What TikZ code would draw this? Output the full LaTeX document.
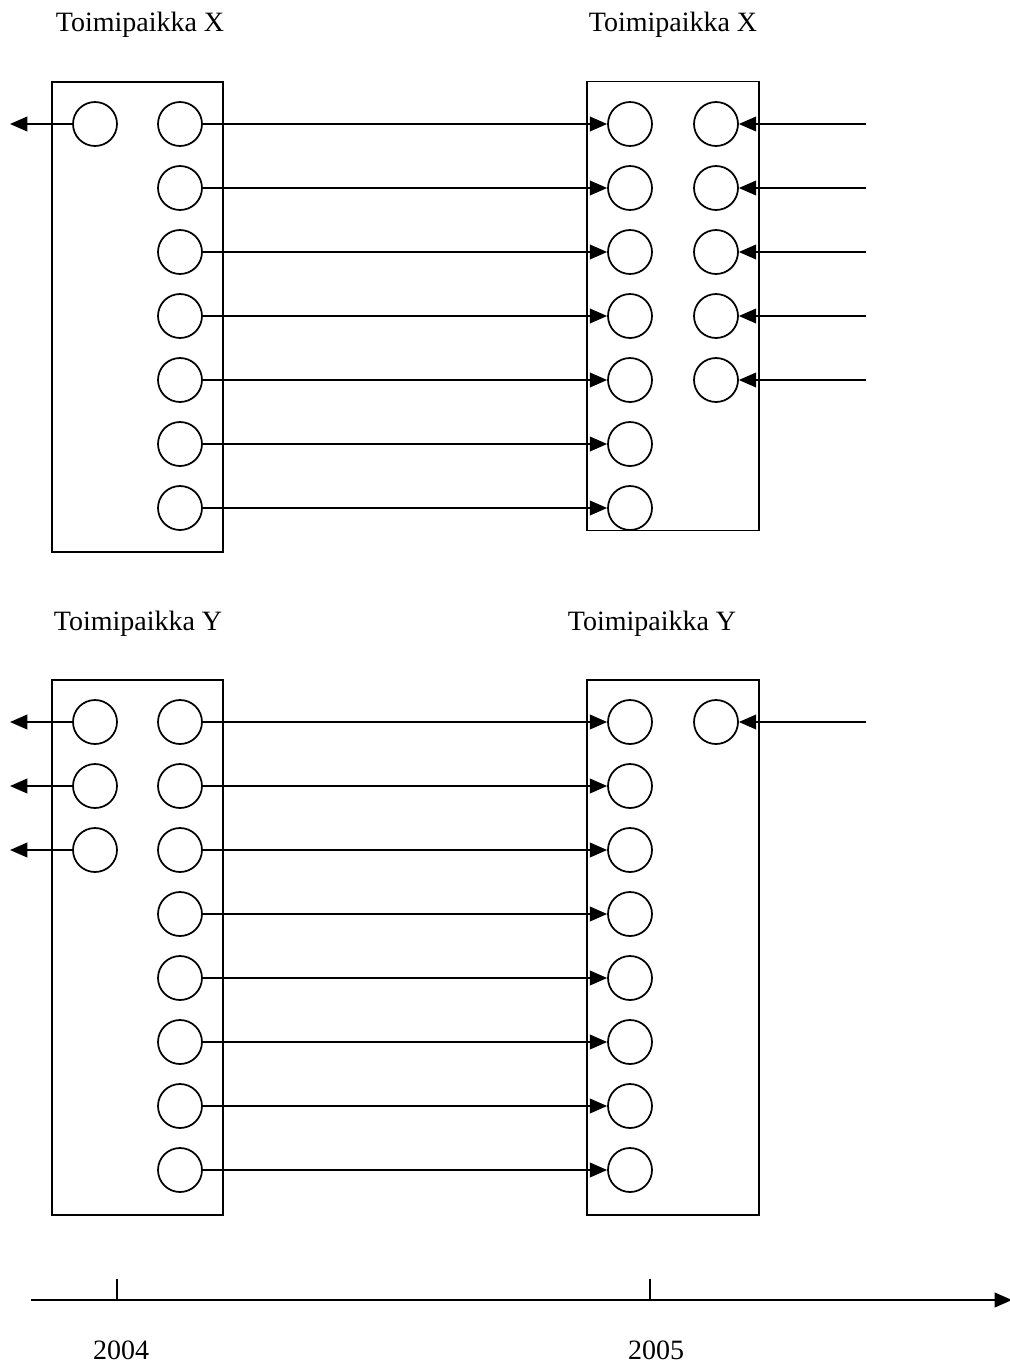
\documentclass[tikz,border=0pt]{standalone}
\usepackage{fontspec}
\setmainfont{Liberation Serif}
\usetikzlibrary{arrows.meta}
\begin{document}
\begin{tikzpicture}[x=0.75pt,y=-0.75pt,
  line width=1.4pt,
  port/.style={draw,circle,minimum size=33pt,inner sep=0pt,line width=1.3pt},
  site/.style={draw,rectangle,inner sep=0pt,line width=1.3pt},
  arr/.style={-{Triangle[length=13pt,width=11pt]}},
  lbl/.style={font=\fontsize{21pt}{24pt}\selectfont,inner sep=0pt}]
\useasboundingbox (0,0) rectangle (1010,1367);
% titles
\node[lbl] (tx1) at (140,25) {Toimipaikka X};
\node[lbl] (tx2) at (673,25) {Toimipaikka X};
\node[lbl] (ty1) at (138,624) {Toimipaikka Y};
\node[lbl] (ty2) at (652,624) {Toimipaikka Y};
% boxes
\node[site,minimum width=128.25pt,minimum height=352.5pt] (BX1) at (137.5,317) {};
\node[site,minimum width=129pt,minimum height=336.75pt] (BX2) at (673,306) {};
\node[site,minimum width=128.25pt,minimum height=401.25pt] (BY1) at (137.5,947.5) {};
\node[site,minimum width=129pt,minimum height=401.25pt] (BY2) at (673,947.5) {};
% X group
\foreach \i in {1,...,7}{
  \pgfmathsetmacro{\yy}{124+64*(\i-1)}
  \node[port,fill=white] (XL\i) at (180,\yy) {};
  \node[port,fill=white] (XR\i) at (630,\yy) {};
  \draw[arr] (XL\i.east) -- (XR\i.west);
}
\node[port,fill=white] (XO1) at (95,124) {};
\coordinate (XOe1) at (10,124);
\draw[arr] (XO1.west) -- (XOe1);
\foreach \i in {1,...,5}{
  \pgfmathsetmacro{\yy}{124+64*(\i-1)}
  \node[port,fill=white] (XI\i) at (716,\yy) {};
  \coordinate (XIs\i) at (866,\yy);
  \draw[arr] (XIs\i) -- (XI\i.east);
}
% Y group
\foreach \i in {1,...,8}{
  \pgfmathsetmacro{\yy}{722+64*(\i-1)}
  \node[port,fill=white] (YL\i) at (180,\yy) {};
  \node[port,fill=white] (YR\i) at (630,\yy) {};
  \draw[arr] (YL\i.east) -- (YR\i.west);
}
\foreach \i in {1,...,3}{
  \pgfmathsetmacro{\yy}{722+64*(\i-1)}
  \node[port,fill=white] (YO\i) at (95,\yy) {};
  \coordinate (YOe\i) at (10,\yy);
  \draw[arr] (YO\i.west) -- (YOe\i);
}
\node[port,fill=white] (YI1) at (716,722) {};
\coordinate (YIs1) at (866,722);
\draw[arr] (YIs1) -- (YI1.east);
% timeline
\coordinate (T0) at (31,1300);
\coordinate (T1) at (1012,1300);
\draw[arr] (T0) -- (T1);
\coordinate (k1) at (117,1300);
\coordinate (k1t) at (117,1279);
\coordinate (k2) at (650,1300);
\coordinate (k2t) at (650,1279);
\draw[line width=1pt] (k1) -- (k1t);
\draw[line width=1pt] (k2) -- (k2t);
\node[lbl] (y4) at (121,1350) {2004};
\node[lbl] (y5) at (656,1350) {2005};
\end{tikzpicture}
\end{document}
